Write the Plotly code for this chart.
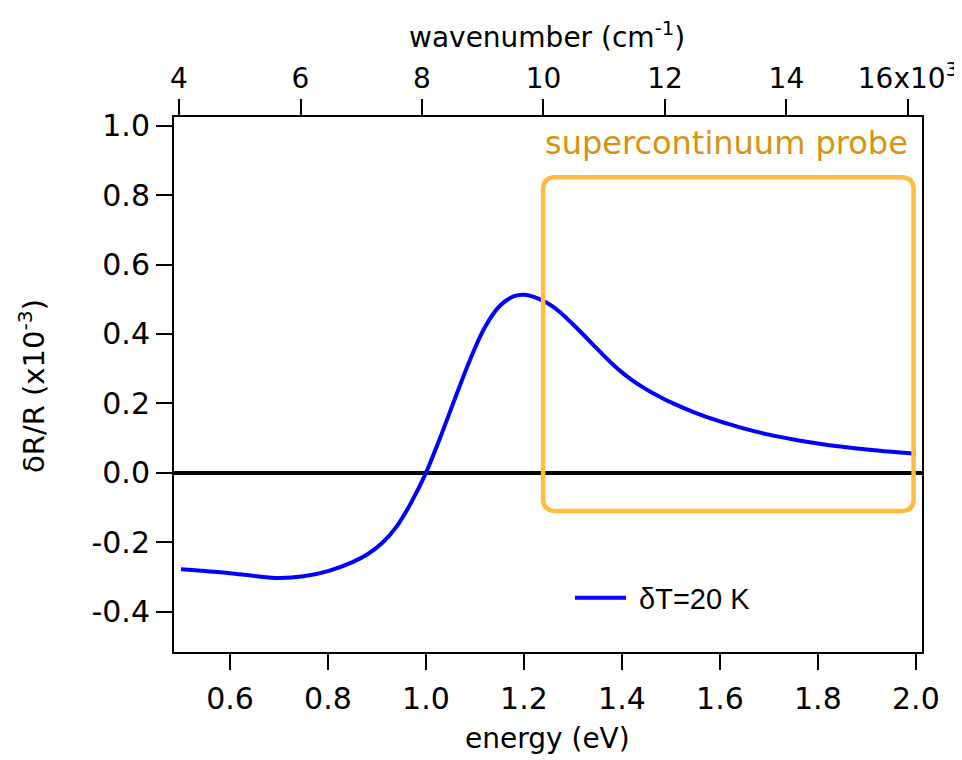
import plotly.graph_objects as go

# ---- data ----
energy_eV = [0.50, 0.55, 0.60, 0.65, 0.70, 0.75, 0.80, 0.85, 0.88, 0.91, 0.94,
             0.97, 1.00, 1.03, 1.06, 1.09, 1.12, 1.15, 1.18, 1.20, 1.22, 1.24,
             1.26, 1.28, 1.30, 1.32, 1.34, 1.36, 1.38, 1.40, 1.42, 1.44, 1.46,
             1.48, 1.50, 1.55, 1.60, 1.65, 1.70, 1.75, 1.80, 1.85, 1.90, 1.95, 2.00]
dRR = [-0.278, -0.283, -0.289, -0.297, -0.303, -0.298, -0.283, -0.257, -0.235, -0.203, -0.155,
       -0.085, 0.000, 0.105, 0.217, 0.326, 0.419, 0.480, 0.509, 0.513, 0.507, 0.495,
       0.478, 0.455, 0.428, 0.400, 0.371, 0.342, 0.314, 0.2895, 0.268, 0.249, 0.232,
       0.217, 0.203, 0.173, 0.148, 0.1275, 0.110, 0.096, 0.0845, 0.075, 0.067, 0.0605, 0.055]
series_name = "\u00a0δT=20 K"

x_ticks = [0.6, 0.8, 1.0, 1.2, 1.4, 1.6, 1.8, 2.0]
y_ticks = [-0.4, -0.2, 0.0, 0.2, 0.4, 0.6, 0.8, 1.0]
wn_ticks = [4000, 6000, 8000, 10000, 12000, 14000, 16000]
wn_ticktext = ["4", "6", "8", "10", "12", "14", "16x10<sup>3</sup>"]

EV_TO_CM = 8065.54
x_range = [0.4857, 2.0125]
y_range = [-0.516, 1.025]

# probe box (data coords)
box_x = [1.2392, 1.9953]
box_y = [-0.1096, 0.8515]

# ---- layout geometry (page is offset by the 8px body margin) ----
OFF = 8
W, H = 962 - OFF, 760 - OFF
ML, MT = 174 - OFF, 117 - OFF
PW, PH = 748, 535
MR, MB = W - ML - PW, H - MT - PH

def px_x(px):
    return (px - OFF - ML) / PW

def px_y(py):
    return (H - MB - (py - OFF)) / PH

FONT = "DejaVu Sans"

fig = go.Figure()
fig.add_trace(go.Scatter(
    x=energy_eV, y=dRR, mode="lines", name=series_name,
    line=dict(color="#0000FF", width=4, shape="spline", smoothing=1.0),
    xaxis="x", yaxis="y",
))
# invisible trace to activate the top axis
fig.add_trace(go.Scatter(x=[x_range[0] * EV_TO_CM], y=[0], mode="markers",
                         marker=dict(opacity=0), xaxis="x2", yaxis="y",
                         showlegend=False, hoverinfo="skip"))

# rounded rectangle for probe box
sx = (x_range[1] - x_range[0]) / PW
sy = (y_range[1] - y_range[0]) / PH
r = 12
rx, ry = r * sx, r * sy
x0, x1 = box_x
y0, y1 = box_y
path = (f"M{x0+rx},{y1} L{x1-rx},{y1} Q{x1},{y1} {x1},{y1-ry} "
        f"L{x1},{y0+ry} Q{x1},{y0} {x1-rx},{y0} "
        f"L{x0+rx},{y0} Q{x0},{y0} {x0},{y0+ry} "
        f"L{x0},{y1-ry} Q{x0},{y1} {x0+rx},{y1} Z")
fig.add_shape(type="path", path=path, xref="x", yref="y",
              line=dict(color="#FFBD40", width=4.5), layer="above")

axis_common = dict(
    showgrid=False, showline=True, linecolor="black", linewidth=2,
    ticks="outside", ticklen=16, tickwidth=2, tickcolor="black",
    automargin=False,
)

fig.update_layout(
    width=W, height=H,
    margin=dict(l=ML, r=MR, t=MT, b=MB, autoexpand=False),
    paper_bgcolor="white", plot_bgcolor="white",
    xaxis=dict(range=x_range, tickvals=x_ticks, ticktext=[f"{v:.1f}" for v in x_ticks],
               zeroline=False, tickfont=dict(family=FONT, size=30, color="black"),
               ticklabelstandoff=3, **axis_common),
    xaxis2=dict(range=[x_range[0] * EV_TO_CM, x_range[1] * EV_TO_CM],
                overlaying="x", side="top", tickvals=wn_ticks, ticktext=wn_ticktext,
                zeroline=False, tickfont=dict(family=FONT, size=28, color="black"),
                **axis_common),
    yaxis=dict(range=y_range, tickvals=y_ticks, ticktext=[f"{v:.1f}" for v in y_ticks],
               zeroline=True, zerolinecolor="black", zerolinewidth=3.5,
               mirror=True, tickfont=dict(family=FONT, size=30, color="black"),
               **axis_common),
    showlegend=True,
    legend=dict(x=px_x(570), y=px_y(598), xanchor="left", yanchor="middle",
                bgcolor="rgba(0,0,0,0)", borderwidth=0,
                font=dict(family="Liberation Sans", size=29, color="black"),
                itemwidth=51),
    annotations=[
        dict(text="energy (eV)", x=px_x(547), y=px_y(738), xref="paper", yref="paper",
             xanchor="center", yanchor="middle", showarrow=False,
             font=dict(family=FONT, size=28, color="black")),
        dict(text="wavenumber (cm<sup>-1</sup>)", x=px_x(547), y=px_y(36), xref="paper", yref="paper",
             xanchor="center", yanchor="middle", showarrow=False,
             font=dict(family=FONT, size=28, color="black")),
        dict(text="δR/R (x10<sup>-3</sup>)", x=px_x(32), y=px_y(386), xref="paper", yref="paper",
             xanchor="center", yanchor="middle", showarrow=False, textangle=-90,
             font=dict(family=FONT, size=29, color="black")),
        dict(text="supercontinuum probe", x=px_x(726), y=px_y(143), xref="paper", yref="paper",
             xanchor="center", yanchor="middle", showarrow=False,
             font=dict(family=FONT, size=32, color="#D69312")),
    ],
)

fig.write_html("out.html")
